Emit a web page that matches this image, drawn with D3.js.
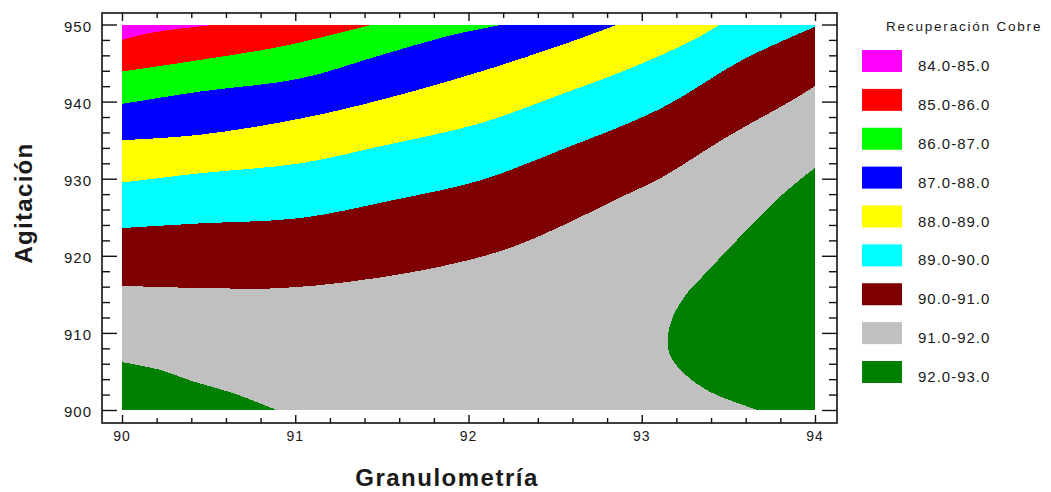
<!DOCTYPE html>
<html>
<head>
<meta charset="utf-8">
<script src="https://cdn.jsdelivr.net/npm/d3@7"></script>
<style>
  body { margin: 0; background: #fff; }
  svg { display: block; }
  text { font-family: "Liberation Sans", Arial, sans-serif; fill: #1a1a1a; }
</style>
</head>
<body>
<svg id="chart" width="1051" height="492"></svg>
<script>
// Axis ranges and ticks
const granDomain = [90, 94];
const agitDomain = [900, 950];
const xMajor = [90, 91, 92, 93, 94];
const xMinor = [90.2, 90.4, 90.6, 90.8, 91.2, 91.4, 91.6, 91.8, 92.2, 92.4, 92.6, 92.8, 93.2, 93.4, 93.6, 93.8];
const yMajor = [900, 910, 920, 930, 940, 950];
const yMinor = [902, 904, 906, 908, 912, 914, 916, 918, 922, 924, 926, 928, 932, 934, 936, 938, 942, 944, 946, 948];

// Legend bands
const bandLabels = ["84.0-85.0", "85.0-86.0", "86.0-87.0", "87.0-88.0", "88.0-89.0",
                    "89.0-90.0", "90.0-91.0", "91.0-92.0", "92.0-93.0"];
const bandColors = ["#ff00ff", "#ff0000", "#00ff00", "#0000ff", "#ffff00",
                    "#00ffff", "#7f0000", "#c0c0c0", "#008000"];

// Iso-lines of the response, [Granulometría, Agitación]
const iso85 = [[90, 948.0], [90.16, 948.9], [90.35, 949.5], [90.55, 950]];
const iso86 = [[90, 943.9], [90.45, 945.4], [90.91, 947.1], [91.2, 948.6], [91.45, 950]];
const iso87 = [[90, 939.7], [90.45, 941.3], [91.03, 943.0], [91.49, 946.0], [91.88, 948.5], [92.2, 950]];
const iso88 = [[90, 935.0], [90.45, 935.7], [91.03, 937.8], [91.49, 940.2], [92.07, 943.9], [92.57, 947.6], [92.86, 950]];
const iso89 = [[90, 929.5], [90.45, 930.7], [91.03, 932.0], [91.49, 934.2], [92.07, 937.2], [92.53, 940.9], [92.91, 944.1], [93.30, 948.0], [93.45, 950]];
const iso90 = [[90, 923.6], [90.45, 924.2], [91.03, 924.9], [91.56, 927.2], [92.07, 929.8], [92.53, 933.7], [93.11, 939.1], [93.58, 945.4], [94, 949.7]];
const iso91 = [[90, 916.1], [90.5, 915.8], [90.91, 915.8], [91.3, 916.6], [91.68, 917.9], [92.01, 919.5], [92.26, 921.2], [92.57, 924.2], [92.84, 927.2], [93.11, 930.1], [93.49, 935.4], [93.87, 940.2], [94, 942.0]];
const iso92a = [[90, 906.2], [90.22, 905.2], [90.41, 903.7], [90.64, 902.2], [90.89, 900]];
const iso92b = [[94, 931.4], [93.80, 927.7], [93.35, 917.3], [93.26, 915.1], [93.18, 912.1], [93.15, 909.5], [93.16, 907.3], [93.24, 904.8], [93.39, 902.4], [93.67, 900]];

const svg = d3.select("#chart");

const x = d3.scaleLinear().domain(granDomain).range([122, 815]);
const y = d3.scaleLinear().domain(agitDomain).range([410, 24.5]);

const frame = { left: 102, top: 13, right: 837, bottom: 423 };

// Clip for the filled surface
svg.append("defs").append("clipPath").attr("id", "plotClip")
  .append("rect")
  .attr("x", x(granDomain[0])).attr("y", y(agitDomain[1]))
  .attr("width", x(granDomain[1]) - x(granDomain[0]))
  .attr("height", y(agitDomain[0]) - y(agitDomain[1]));

const surface = svg.append("g").attr("clip-path", "url(#plotClip)")
  .attr("shape-rendering", "crispEdges");

const curve = d3.line().x(d => x(d[0])).y(d => y(d[1])).curve(d3.curveCatmullRom.alpha(0.5));
const region = (pts, corners) =>
  curve(pts) + corners.map(c => `L${x(c[0])},${y(c[1])}`).join("") + "Z";

// Base band 91-92 covers the whole area
surface.append("rect")
  .attr("x", x(granDomain[0])).attr("y", y(agitDomain[1]))
  .attr("width", x(granDomain[1]) - x(granDomain[0]))
  .attr("height", y(agitDomain[0]) - y(agitDomain[1]))
  .attr("fill", bandColors[7]);

// Regions below each level, painted from the highest level down
const lowerRegions = [
  { pts: iso91, corners: [[94, 950], [90, 950]], color: bandColors[6] },
  { pts: iso90, corners: [[94, 950], [90, 950]], color: bandColors[5] },
  { pts: iso89, corners: [[90, 950]], color: bandColors[4] },
  { pts: iso88, corners: [[90, 950]], color: bandColors[3] },
  { pts: iso87, corners: [[90, 950]], color: bandColors[2] },
  { pts: iso86, corners: [[90, 950]], color: bandColors[1] },
  { pts: iso85, corners: [[90, 950]], color: bandColors[0] }
];
// Regions above 92
const upperRegions = [
  { pts: iso92a, corners: [[90, 900]], color: bandColors[8] },
  { pts: iso92b, corners: [[94, 900]], color: bandColors[8] }
];

surface.selectAll("path.band")
  .data(lowerRegions.concat(upperRegions))
  .join("path")
  .attr("class", "band")
  .attr("d", d => region(d.pts, d.corners))
  .attr("fill", d => d.color);

// Frame
svg.append("rect")
  .attr("x", frame.left).attr("y", frame.top)
  .attr("width", frame.right - frame.left)
  .attr("height", frame.bottom - frame.top)
  .attr("fill", "none").attr("stroke", "#111").attr("stroke-width", 1.6);

// Ticks on all four sides, pointing inward
function ticks(axisGen, values, size, transform) {
  const g = svg.append("g").attr("transform", transform)
    .call(axisGen.tickValues(values).tickSize(size).tickFormat(""));
  g.select(".domain").remove();
  g.selectAll("line").attr("stroke", "#111").attr("stroke-width", 1.4);
  return g;
}
ticks(d3.axisBottom(x), xMajor, 8, `translate(0,${frame.top})`);
ticks(d3.axisBottom(x), xMinor, 5, `translate(0,${frame.top})`);
ticks(d3.axisTop(x), xMajor, 8, `translate(0,${frame.bottom})`);
ticks(d3.axisTop(x), xMinor, 5, `translate(0,${frame.bottom})`);
ticks(d3.axisRight(y), yMajor, 15, `translate(${frame.left},0)`);
ticks(d3.axisRight(y), yMinor, 8, `translate(${frame.left},0)`);
ticks(d3.axisLeft(y), yMajor, 15, `translate(${frame.right},0)`);
ticks(d3.axisLeft(y), yMinor, 8, `translate(${frame.right},0)`);

// Tick labels
svg.append("g").selectAll("text").data(xMajor).join("text")
  .attr("x", d => x(d)).attr("y", 441)
  .attr("text-anchor", "middle")
  .attr("font-size", 14).attr("letter-spacing", 1)
  .text(d => d);

svg.append("g").selectAll("text").data(yMajor).join("text")
  .attr("x", 92).attr("y", d => y(d) + 7)
  .attr("text-anchor", "end")
  .attr("font-size", 15).attr("letter-spacing", 1)
  .text(d => d);

// Axis titles
svg.append("text")
  .attr("x", 447).attr("y", 486)
  .attr("text-anchor", "middle")
  .attr("font-size", 24).attr("font-weight", "bold").attr("letter-spacing", 1.5)
  .text("Granulometría");

svg.append("text")
  .attr("transform", `translate(32,203) rotate(-90)`)
  .attr("text-anchor", "middle")
  .attr("font-size", 24).attr("font-weight", "bold").attr("letter-spacing", 1.3)
  .text("Agitación");

// Legend
const legend = svg.append("g");
legend.append("text")
  .attr("x", 886).attr("y", 31)
  .attr("font-size", 13.5).attr("letter-spacing", 1.8)
  .text("Recuperación Cobre");

const rowY = d3.scaleLinear().domain([0, 8]).range([50, 361]);
const rows = legend.selectAll("g.row").data(bandLabels).join("g")
  .attr("class", "row")
  .attr("transform", (d, i) => `translate(862,${rowY(i)})`);
rows.append("rect")
  .attr("width", 40).attr("height", 22)
  .attr("fill", (d, i) => bandColors[i]);
rows.append("text")
  .attr("x", 56).attr("y", 21)
  .attr("font-size", 15).attr("letter-spacing", 1)
  .text(d => d);
</script>
</body>
</html>
